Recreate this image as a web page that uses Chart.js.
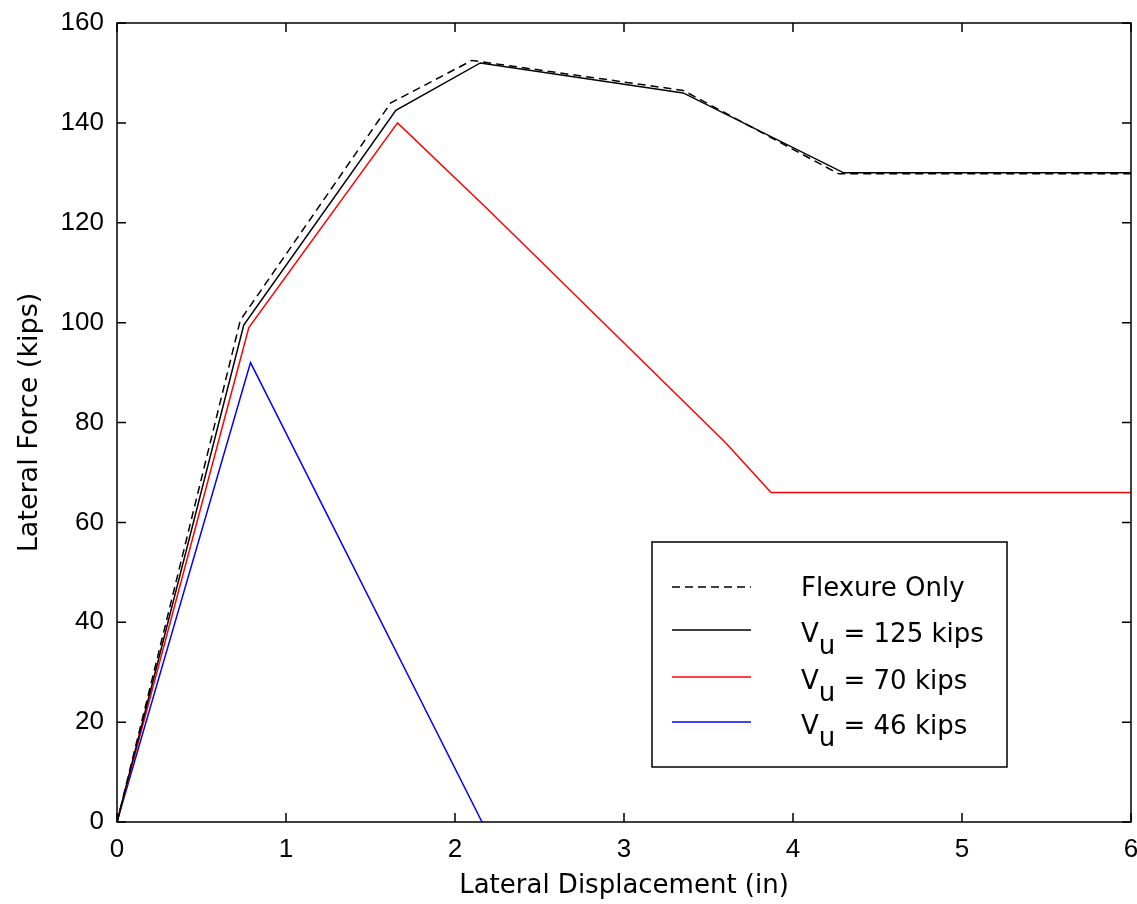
<!DOCTYPE html>
<html>
<head>
<meta charset="utf-8">
<script src="https://cdn.jsdelivr.net/npm/chart.js@4/dist/chart.umd.min.js"></script>
<style>
html,body{margin:0;padding:0;background:#fff;}
#wrap{width:1137px;height:904px;position:relative;}
</style>
</head>
<body>
<div id="wrap"><canvas id="c" width="1137" height="904"></canvas></div>
<script>
// Data
const flexX = [0, 0.73, 1.62, 2.10, 3.35, 4.27, 6];
const flexY = [0, 100.5, 144, 152.5, 146.5, 129.8, 129.8];
const v125X = [0, 0.75, 1.65, 2.15, 3.35, 4.30, 6];
const v125Y = [0, 99.5, 142.5, 152, 146, 130, 130];
const v70X = [0, 0.78, 1.66, 2.20, 3.60, 3.87, 6];
const v70Y = [0, 99, 140, 122.5, 76, 66, 66];
const v46X = [0, 0.79, 2.16];
const v46Y = [0, 92, 0];
const xTicks = [0, 1, 2, 3, 4, 5, 6];
const yTicks = [0, 20, 40, 60, 80, 100, 120, 140, 160];
const legendLabels = [
  {main: 'Flexure Only'},
  {main: 'V', sub: 'u', rest: ' = 125 kips'},
  {main: 'V', sub: 'u', rest: ' = 70 kips'},
  {main: 'V', sub: 'u', rest: ' = 46 kips'}
];

const FONT = '"Liberation Sans", Arial, sans-serif';
const TFONT = '"DejaVu Sans", sans-serif';
const pts = (xs, ys) => xs.map((x, i) => ({x: x, y: ys[i]}));

const frame = {
  id: 'frame',
  afterDraw(chart) {
    const ctx = chart.ctx, a = chart.chartArea;
    const xs = chart.scales.x, ys = chart.scales.y;
    ctx.save();
    ctx.strokeStyle = '#000';
    ctx.lineWidth = 1.5;
    ctx.strokeRect(a.left, a.top, a.right - a.left, a.bottom - a.top);
    const L = 9;
    ctx.beginPath();
    xTicks.forEach(v => {
      const px = xs.getPixelForValue(v);
      ctx.moveTo(px, a.bottom); ctx.lineTo(px, a.bottom - L);
      ctx.moveTo(px, a.top); ctx.lineTo(px, a.top + L);
    });
    yTicks.forEach(v => {
      const py = ys.getPixelForValue(v);
      ctx.moveTo(a.left, py); ctx.lineTo(a.left + L, py);
      ctx.moveTo(a.right, py); ctx.lineTo(a.right - L, py);
    });
    ctx.stroke();

    // legend box
    const bx = 652, by = 542, bw = 355, bh = 225;
    ctx.fillStyle = '#fff';
    ctx.fillRect(bx, by, bw, bh);
    ctx.lineWidth = 1.5;
    ctx.strokeRect(bx, by, bw, bh);
    const ds = chart.data.datasets;
    const rowY = [587, 630, 677, 722];
    ds.forEach((d, i) => {
      ctx.beginPath();
      ctx.strokeStyle = d.borderColor;
      ctx.lineWidth = 1.5;
      ctx.setLineDash(d.borderDash || []);
      ctx.moveTo(672, rowY[i]); ctx.lineTo(751, rowY[i]);
      ctx.stroke();
      ctx.setLineDash([]);
      const lab = legendLabels[i];
      ctx.fillStyle = '#000';
      ctx.textBaseline = 'alphabetic';
      ctx.textAlign = 'left';
      ctx.font = '26px ' + TFONT;
      const base = i === 0 ? rowY[i] + 9 : rowY[i] + 12;
      let x = 801;
      ctx.fillText(lab.main, x, base);
      if (lab.sub) {
        x += ctx.measureText(lab.main).width;
        ctx.fillText(lab.sub, x, base + 12);
        x += ctx.measureText(lab.sub).width;
        ctx.fillText(lab.rest, x, base);
      }
    });
    ctx.restore();
  }
};

new Chart(document.getElementById('c'), {
  type: 'line',
  data: {
    datasets: [
      {label: 'Flexure Only', data: pts(flexX, flexY), borderColor: '#000', borderDash: [8, 5], borderWidth: 1.5},
      {label: 'Vu = 125 kips', data: pts(v125X, v125Y), borderColor: '#000', borderWidth: 1.5},
      {label: 'Vu = 70 kips', data: pts(v70X, v70Y), borderColor: '#ff0000', borderWidth: 1.5},
      {label: 'Vu = 46 kips', data: pts(v46X, v46Y), borderColor: '#0000ff', borderWidth: 1.5}
    ]
  },
  options: {
    responsive: false,
    animation: false,
    elements: {point: {radius: 0}, line: {tension: 0, fill: false}},
    layout: {padding: {left: 0, right: 6, top: 23, bottom: 0}},
    plugins: {legend: {display: false}, tooltip: {enabled: false}},
    scales: {
      x: {
        type: 'linear', min: 0, max: 6,
        afterBuildTicks(s) { s.ticks = xTicks.map(v => ({value: v})); },
        afterFit(s) { s.height = 82; s.paddingLeft = 0; s.paddingRight = 0; },
        grid: {display: false, drawTicks: false},
        border: {display: false},
        ticks: {color: '#000', font: {family: FONT, size: 26}, padding: 12, maxRotation: 0},
        title: {display: true, text: 'Lateral Displacement (in)', color: '#000', font: {family: TFONT, size: 26}, padding: {top: 0, bottom: 2}}
      },
      y: {
        type: 'linear', min: 0, max: 160,
        afterBuildTicks(s) { s.ticks = yTicks.map(v => ({value: v})); },
        afterFit(s) { s.width = 117; s.paddingTop = 0; s.paddingBottom = 0; },
        grid: {display: false, drawTicks: false},
        border: {display: false},
        ticks: {color: '#000', font: {family: FONT, size: 26}, padding: 13},
        title: {display: true, text: 'Lateral Force (kips)', color: '#000', font: {family: TFONT, size: 27}, padding: {top: 14, bottom: 0}}
      }
    }
  },
  plugins: [frame]
});
</script>
</body>
</html>
